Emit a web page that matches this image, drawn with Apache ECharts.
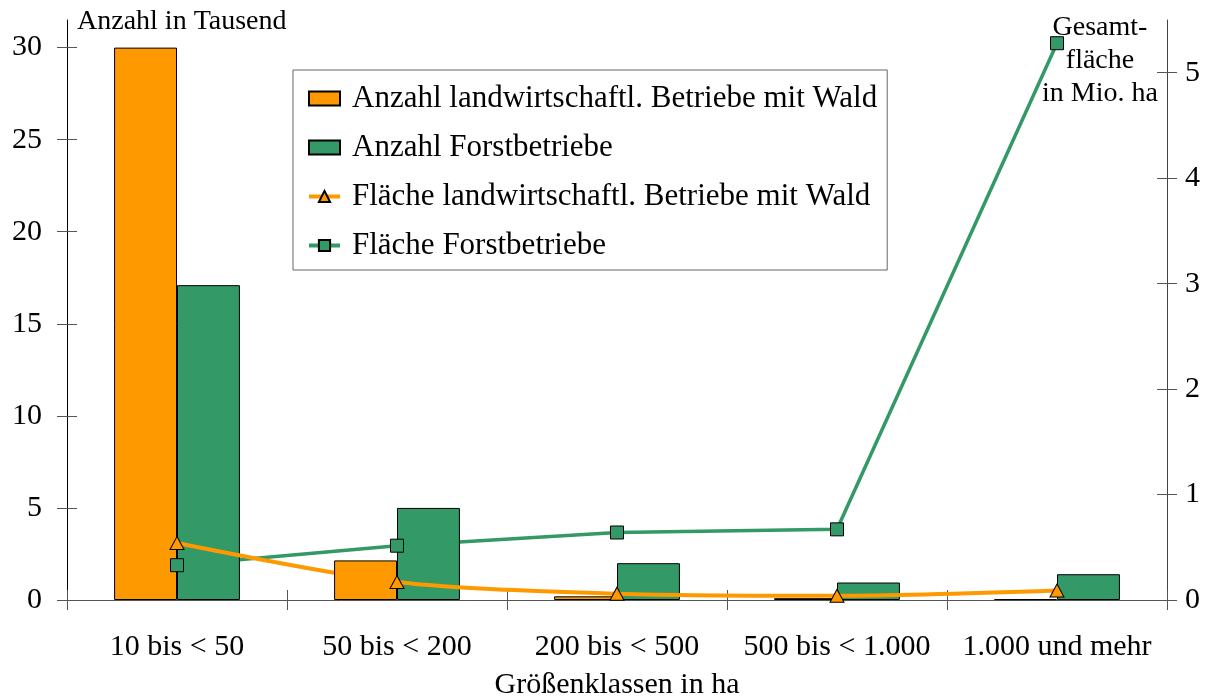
<!DOCTYPE html>
<html>
<head>
<meta charset="utf-8">
<script src="https://cdn.jsdelivr.net/npm/echarts@6/dist/echarts.min.js"></script>
<style>
    html, body { margin: 0; padding: 0; background: #fff; }
    #container { width: 1209px; height: 700px; }
</style>
</head>
<body>
<div id="container"></div>
<script>
// Daten
var categories = ['10 bis < 50', '50 bis < 200', '200 bis < 500', '500 bis < 1.000', '1.000 und mehr'];
var anzahlLandw = [30.0, 2.15, 0.2, 0.1, 0.05];     // Tausend
var anzahlForst = [17.1, 5.0, 2.0, 0.95, 1.4];      // Tausend
var flaecheLandw = [0.54, 0.17, 0.06, 0.04, 0.09];  // Mio. ha
var flaecheForst = [0.33, 0.515, 0.64, 0.67, 5.28]; // Mio. ha
var leftTicks = [0, 5, 10, 15, 20, 25, 30];
var rightTicks = [0, 1, 2, 3, 4, 5];

var orange = '#ff9900';
var green = '#339966';
var font = 'Liberation Serif';

var myChart = echarts.init(document.getElementById('container'));

var option = {
    backgroundColor: '#fff',
    animation: false,
    textStyle: { fontFamily: font, color: '#000' },
    grid: { left: 67, right: 42, top: 20, bottom: 100, containLabel: false, outerBoundsMode: 'none' },
    legend: {
        orient: 'vertical',
        left: 293,
        top: 70,
        padding: [13, 10, 9, 14],
        itemGap: 18,
        itemWidth: 31,
        itemHeight: 14,
        borderColor: '#666',
        borderWidth: 1,
        backgroundColor: '#fff',
        textStyle: { fontFamily: font, fontSize: 31, color: '#000', lineHeight: 30, padding: [0, 0, 0, 7] },
        data: [
            { name: 'Anzahl landwirtschaftl. Betriebe mit Wald', icon: 'rect' },
            { name: 'Anzahl Forstbetriebe', icon: 'rect' },
            { name: 'Fläche landwirtschaftl. Betriebe mit Wald', lineStyle: { width: 4 } },
            { name: 'Fläche Forstbetriebe', lineStyle: { width: 4 } }
        ]
    },
    graphic: [
        { type: 'text', left: 77, top: 8,
          style: { text: 'Anzahl in Tausend', font: '28px "Liberation Serif"', fill: '#000' } },
        { type: 'text', x: 1100, y: 61,
          style: { text: 'Gesamt-\nfläche\nin Mio. ha', font: '28px "Liberation Serif"', fill: '#000',
                   align: 'center', verticalAlign: 'middle', lineHeight: 33 } }
    ],
    xAxis: [{
        type: 'category',
        data: categories,
        position: 'bottom',
        name: 'Größenklassen in ha',
        nameLocation: 'middle',
        nameGap: 70,
        nameTextStyle: { fontFamily: font, fontSize: 30, color: '#000' },
        axisLine: { lineStyle: { color: '#555', width: 1 } },
        axisTick: { show: true, length: 10, lineStyle: { color: '#555' } },
        axisLabel: { interval: 0, margin: 32, fontFamily: font, fontSize: 30, color: '#000' }
    }, {
        // nur Striche nach innen
        type: 'category',
        data: categories,
        position: 'bottom',
        axisLine: { show: false },
        axisTick: { show: true, inside: true, length: 10, lineStyle: { color: '#555' } },
        axisLabel: { show: false }
    }],
    yAxis: [{
        type: 'value',
        position: 'left',
        min: 0,
        max: 31.5,
        splitLine: { show: false },
        axisLine: { show: true, lineStyle: { color: '#000', width: 1 } },
        axisTick: { show: true, length: 10, customValues: leftTicks, lineStyle: { color: '#555' } },
        axisLabel: { margin: 25, customValues: leftTicks, fontFamily: font, fontSize: 30, color: '#000' }
    }, {
        type: 'value',
        position: 'right',
        min: 0,
        max: 5.5,
        splitLine: { show: false },
        axisLine: { show: true, lineStyle: { color: '#444', width: 1 } },
        axisTick: { show: true, length: 10, customValues: rightTicks, lineStyle: { color: '#555' } },
        axisLabel: { margin: 18, customValues: rightTicks, fontFamily: font, fontSize: 30, color: '#000' }
    }, {
        type: 'value',
        position: 'left',
        min: 0,
        max: 31.5,
        splitLine: { show: false },
        axisLine: { show: false },
        axisTick: { show: true, inside: true, length: 10, customValues: leftTicks, lineStyle: { color: '#555' } },
        axisLabel: { show: false }
    }, {
        type: 'value',
        position: 'right',
        min: 0,
        max: 5.5,
        splitLine: { show: false },
        axisLine: { show: false },
        axisTick: { show: true, inside: true, length: 10, customValues: rightTicks, lineStyle: { color: '#555' } },
        axisLabel: { show: false }
    }],
    series: [{
        name: 'Anzahl landwirtschaftl. Betriebe mit Wald',
        type: 'bar',
        data: anzahlLandw,
        barWidth: '28.6%',
        barGap: 0,
        z: 5,
        itemStyle: { color: orange, borderColor: '#000', borderWidth: 1 }
    }, {
        name: 'Anzahl Forstbetriebe',
        type: 'bar',
        data: anzahlForst,
        barWidth: '28.6%',
        barGap: 0,
        z: 3,
        itemStyle: { color: green, borderColor: '#000', borderWidth: 1 }
    }, {
        name: 'Fläche landwirtschaftl. Betriebe mit Wald',
        type: 'line',
        yAxisIndex: 1,
        data: flaecheLandw,
        smooth: 0.3,
        symbol: 'triangle',
        showSymbol: false,
        z: 4,
        lineStyle: { color: orange, width: 4 },
        itemStyle: { color: orange, borderColor: '#000', borderWidth: 1 }
    }, {
        name: 'Fläche Forstbetriebe',
        type: 'line',
        yAxisIndex: 1,
        data: flaecheForst,
        symbol: 'rect',
        showSymbol: false,
        z: 2,
        lineStyle: { color: green, width: 3.5 },
        itemStyle: { color: green, borderColor: '#000', borderWidth: 1 }
    }, {
        // Marker ueber den Balken
        name: 'marker-landw',
        type: 'scatter',
        yAxisIndex: 1,
        data: flaecheLandw,
        symbol: 'triangle',
        symbolSize: [14, 13],
        z: 6,
        itemStyle: { color: orange, borderColor: '#000', borderWidth: 1, opacity: 1 }
    }, {
        name: 'marker-forst',
        type: 'scatter',
        yAxisIndex: 1,
        data: flaecheForst,
        symbol: 'rect',
        symbolSize: 13,
        z: 6,
        itemStyle: { color: green, borderColor: '#000', borderWidth: 1, opacity: 1 }
    }]
};

myChart.setOption(option);
window.addEventListener('resize', function() {
    myChart.resize();
});
</script>
</body>
</html>
